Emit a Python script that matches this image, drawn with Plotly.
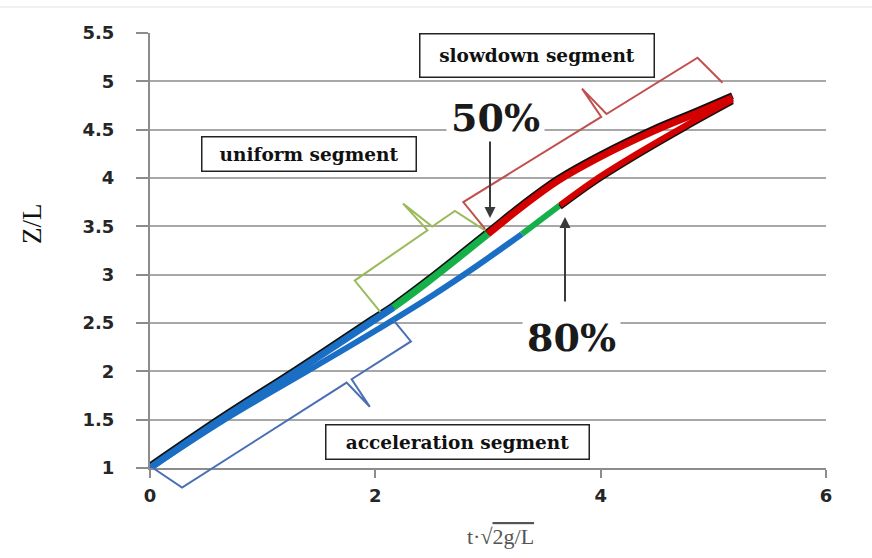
import math
import plotly.graph_objects as go

# ---- data: dimensionless height Z/L against dimensionless time t*sqrt(2g/L) ----
upper_t = [0.00, 0.63, 1.30, 1.95, 2.16, 2.46, 3.00, 3.30, 3.62, 4.00, 4.46, 4.85, 5.17]
upper_z = [1.00, 1.50, 2.00, 2.50, 2.66, 2.92, 3.42, 3.70, 3.97, 4.22, 4.48, 4.67, 4.83]
upper_breaks = [2.16, 3.00]          # 50% case: end of acceleration / uniform segments

lower_t = [0.00, 0.66, 1.45, 2.00, 2.50, 2.90, 3.30, 3.64, 3.95, 4.35, 4.75, 5.17]
lower_z = [1.00, 1.50, 2.04, 2.42, 2.78, 3.09, 3.42, 3.72, 3.98, 4.27, 4.54, 4.81]
lower_breaks = [3.30, 3.64]          # 80% case

x_ticks = [0, 2, 4, 6]
y_ticks = [1, 1.5, 2, 2.5, 3, 3.5, 4, 4.5, 5, 5.5]
segment_names = ["acceleration segment", "uniform segment", "slowdown segment"]

# ---- page geometry ----
W, H = 872, 558
ML, MR, MT, MB = 150, 46, 33, 90
X0, X1 = 0, 6
Y0, Y1 = 1, 5.5
PW, PH = W - ML - MR, H - MT - MB

SEG_COLORS = ["#1a6fc4", "#16b04a", "#d40000"]
BRACE_COLORS = ["#4a6fb5", "#9bbb59", "#c0504d"]
GRID = "#a8a8a8"
AXIS = "#8c8c8c"


def to_px(x, y):
    return ML + (x - X0) / (X1 - X0) * PW, MT + (Y1 - y) / (Y1 - Y0) * PH


def to_paper(px, py):
    return (px - ML) / PW, (H - MB - py) / PH


def split(ts, zs, breaks):
    """Cut a curve into three pieces that share their end points."""
    edges = [ts[0]] + breaks + [ts[-1]]
    parts = []
    for lo, hi in zip(edges[:-1], edges[1:]):
        idx = [i for i, t in enumerate(ts) if lo - 1e-9 <= t <= hi + 1e-9]
        parts.append(([ts[i] for i in idx], [zs[i] for i in idx]))
    return parts


def line(xs, ys, color, width, axis):
    return go.Scatter(x=xs, y=ys, mode="lines", yaxis=axis,
                      line=dict(color=color, width=width, shape="spline"),
                      hoverinfo="skip", showlegend=False)


fig = go.Figure()
upper_parts = split(upper_t, upper_z, upper_breaks)
lower_parts = split(lower_t, lower_z, lower_breaks)

# layer order follows the axes: y (base) < y2 < y3 < y4
for (xs, ys), col in zip(lower_parts[:2], SEG_COLORS[:2]):
    fig.add_trace(line(xs, ys, col, 6, "y"))
# dark under-strokes, nudged a couple of pixels by their offset axes
fig.add_trace(line(upper_t, upper_z, "#111111", 7, "y2"))
fig.add_trace(line(*lower_parts[2], "#111111", 5.5, "y3"))
fig.add_trace(line(*lower_parts[2], SEG_COLORS[2], 6, "y4"))
for (xs, ys), col in zip(upper_parts, SEG_COLORS):
    fig.add_trace(line(xs, ys, col, 7, "y4"))


def brace(a, b, side, e0, c0, c1, e1, frac, spike, slant, color):
    """Square bracket beside the chord a-b with a pointer; offsets are (normal, along) in px."""
    ax, ay = to_px(*a)
    bx, by = to_px(*b)
    L = math.hypot(bx - ax, by - ay)
    ux, uy = (bx - ax) / L, (by - ay) / L
    nx, ny = side * -uy, side * ux

    def pt(bx_, by_, off):
        dn, du = off
        return bx_ + dn * nx + du * ux, by_ + dn * ny + du * uy

    E0 = pt(ax, ay, e0)
    C0 = pt(ax, ay, c0)
    C1 = pt(bx, by, c1)
    E1 = pt(bx, by, e1)
    J = (C0[0] + frac * (C1[0] - C0[0]), C0[1] + frac * (C1[1] - C0[1]))
    T = (J[0] + spike * nx + slant * ux, J[1] + spike * ny + slant * uy)
    Ja = (J[0] - 3 * ux, J[1] - 3 * uy)
    Jb = (J[0] + 3 * ux, J[1] + 3 * uy)
    pts = [E0, C0, Ja, T, Jb, C1, E1]
    d = []
    for k, (px, py) in enumerate(pts):
        x, y = to_paper(px, py)
        d.append(("M" if k == 0 else "L") + f"{x:.5f},{y:.5f}")
    fig.add_shape(type="path", path=" ".join(d), xref="paper", yref="paper",
                  line=dict(color=color, width=2))


bounds = [0] + [upper_t.index(b) for b in upper_breaks] + [len(upper_t) - 1]
anchors = [(upper_t[i], upper_z[i]) for i in bounds]

brace(anchors[0], anchors[1], +1, (1.6, 2.5), (34, 16), (38, -4), (10, -7), 0.73, 33, 3, BRACE_COLORS[0])
brace(anchors[1], anchors[2], -1, (4.6, -13), (45, -14), (38.5, -12), (4.4, 0), 0.75, 36, -6, BRACE_COLORS[1])
brace(anchors[2], anchors[3], -1, (6, 0), (40, -6), (52, -11), (18, -1.4), 0.6, 34, -6, BRACE_COLORS[2])


def label(cx, cy, text, **kw):
    x, y = to_paper(cx, cy)
    fig.add_annotation(x=x, y=y, xref="paper", yref="paper", xanchor="center",
                       yanchor="middle", text=text, showarrow=False, **kw)


# ---- labels ----
box_font = dict(family="DejaVu Serif", size=18.5, color="#111111")
boxes = [  # centre px, width, height
    (segment_names[0], (457, 441.5), 262, 33),
    (segment_names[1], (308.5, 153.5), 213, 33),
    (segment_names[2], (536.5, 56), 233, 42),
]
for text, (cx, cy), bw, bh in boxes:
    label(cx, cy, f"<b>{text}</b>", font=box_font, width=bw, height=bh,
          align="center", valign="middle",
          bgcolor="white", bordercolor="#222222", borderwidth=1.5, borderpad=0)

pct_font = dict(family="DejaVu Serif", size=38, color="#1a1a1a")
for text, (cx, cy) in [("50%", (496, 117)), ("80%", (571, 337))]:
    label(cx, cy, f"<b>{text}</b>", font=pct_font, bgcolor="white", borderpad=4)

for (tx, ty), (tailx, taily) in [((490, 218), (490, 140)), ((565, 217), (565, 303))]:
    x, y = to_paper(tx, ty)
    fig.add_annotation(x=x, y=y, xref="paper", yref="paper", ax=tailx - tx, ay=taily - ty,
                       text="", showarrow=True,
                       arrowhead=2, arrowsize=1.1, arrowwidth=2, arrowcolor="#3a3a3a")

# axis titles
label(32, 224, "Z/L", textangle=-90,
      font=dict(family="Liberation Serif", size=27, color="#111111"))
label(500, 536, "t·√<span style='text-decoration:overline'>2g/L</span>",
      font=dict(family="Liberation Serif", size=22, color="#555555"))

# faint frame line along the top of the page
fig.add_shape(type="line", xref="paper", yref="paper", x0=-ML / PW, x1=1 + MR / PW,
              y0=1 + (MT - 7) / PH, y1=1 + (MT - 7) / PH, line=dict(color="#e2e2e2", width=1))

dy = 2 / PH * (Y1 - Y0)
tick_font = dict(family="DejaVu Sans", size=18, color="#262626", weight="bold")
fig.update_layout(
    width=W, height=H,
    margin=dict(l=ML, r=MR, t=MT, b=MB, pad=0),
    paper_bgcolor="white", plot_bgcolor="white",
    xaxis=dict(range=[X0, X1], tickvals=x_ticks, showgrid=False, zeroline=False,
               showline=True, linecolor=AXIS, linewidth=2, ticks="outside", ticklen=8,
               tickwidth=2, tickcolor=AXIS, tickfont=tick_font, ticklabelstandoff=2),
    yaxis=dict(range=[Y0, Y1], tickvals=y_ticks, showgrid=True, gridcolor=GRID, gridwidth=2,
               zeroline=False, showline=True, linecolor=AXIS, linewidth=2, ticks="outside",
               ticklen=12, tickwidth=2, tickcolor=AXIS, tickfont=tick_font, ticklabelstandoff=18),
    yaxis2=dict(range=[Y0 - dy, Y1 - dy], overlaying="y", visible=False),
    yaxis3=dict(range=[Y0 + dy, Y1 + dy], overlaying="y", visible=False),
    yaxis4=dict(range=[Y0, Y1], overlaying="y", visible=False),
)

fig.write_html("out.html")
